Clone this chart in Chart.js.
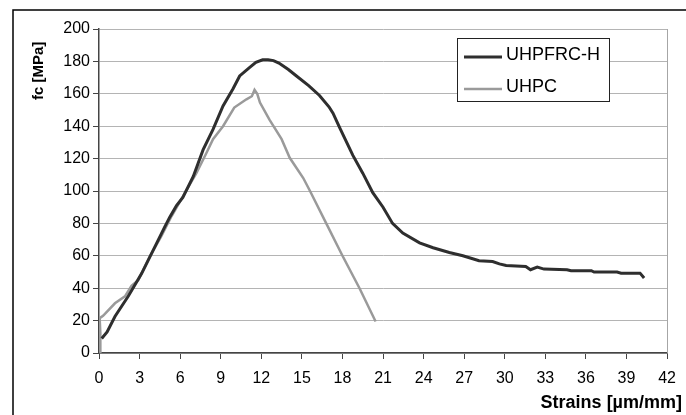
<!DOCTYPE html>
<html>
<head>
<meta charset="utf-8">
<script src="https://cdn.jsdelivr.net/npm/chart.js@4.4.1/dist/chart.umd.min.js"></script>
<style>
  html, body { margin: 0; padding: 0; background: #fff; }
  #wrap { width: 686px; height: 415px; position: relative; }
</style>
</head>
<body>
<div id="wrap"><canvas id="fcChart" width="686" height="415"></canvas></div>
<script>
// series labels
var seriesNames = ['UHPFRC-H', 'UHPC'];

// UHPFRC-H : strain [um/mm] / stress [MPa]
var hStrain = [0.2, 0.6, 1.18, 2.16, 3.15, 3.9, 4.87, 5.24, 5.73, 6.2, 6.97, 7.7, 8.43, 9.17, 9.9, 10.4, 11.1, 11.6, 12.1, 12.5, 12.9, 13.3, 14.0, 14.6, 15.5, 16.3, 17.0, 17.3, 17.8, 18.77, 19.5, 20.24, 21.0, 21.7, 22.46, 23.7, 24.7, 25.9, 26.9, 28.1, 29.1, 29.6, 30.1, 31.55, 31.9, 32.4, 32.9, 34.6, 34.9, 36.4, 36.6, 38.3, 38.6, 40.0, 40.3];
var hStress = [9, 13, 22.5, 35, 49, 61.7, 78, 84, 91, 96, 109, 125.5, 138, 152.5, 163, 171, 176, 179.4, 181, 181, 180.5, 179, 175, 171, 165, 159, 152, 148, 139, 122, 111, 99, 90, 80, 74, 68, 65, 62, 60, 57, 56.5, 55, 54, 53.4, 51.4, 53, 51.8, 51.4, 50.8, 50.8, 50, 50, 49.3, 49.3, 46.3];

// UHPC
var pStrain = [0.1, 0.1, 0.05, 0.3, 1.18, 1.92, 2.4, 2.9, 3.76, 4.6, 5.36, 6.5, 7.2, 7.95, 8.43, 9.17, 10.0, 10.9, 11.3, 11.5, 11.7, 11.9, 12.6, 13.5, 14.1, 15.1, 15.6, 16.8, 18.0, 19.26, 20.45];
var pStress = [0, 12, 21.5, 23, 30.7, 35, 41.5, 45, 59.6, 72, 84.4, 101, 111, 123.6, 132, 140, 151.5, 156.6, 158.5, 162.4, 160, 154.6, 144, 132, 120.5, 108, 100, 80, 60, 40, 19.4];

// axis ticks
var xTicks = [0, 3, 6, 9, 12, 15, 18, 21, 24, 27, 30, 33, 36, 39, 42];
var yTicks = [0, 20, 40, 60, 80, 100, 120, 140, 160, 180, 200];

var xTitle = 'Strains [\u00b5m/mm]';
var yTitle = 'fc [MPa]';

function toPoints(xs, ys) {
    return xs.map(function(x, i) { return { x: x, y: ys[i] }; });
}

// frame, plot border, titles and boxed legend
var decor = {
    id: 'decor',
    beforeDatasetsDraw: function(chart) {
        var ctx = chart.ctx, a = chart.chartArea;
        ctx.save();
        ctx.strokeStyle = '#a6a6a6';
        ctx.lineWidth = 1;
        ctx.beginPath();
        ctx.moveTo(Math.round(a.right) + 0.5, a.top);
        ctx.lineTo(Math.round(a.right) + 0.5, a.bottom);
        ctx.stroke();
        ctx.restore();
    },
    afterDraw: function(chart) {
        var ctx = chart.ctx;
        ctx.save();
        // outer frame
        ctx.strokeStyle = '#000';
        ctx.lineWidth = 1.5;
        ctx.beginPath();
        ctx.moveTo(13, 415);
        ctx.lineTo(13, 10);
        ctx.lineTo(686, 10);
        ctx.stroke();

        // axis titles
        ctx.fillStyle = '#000';
        ctx.font = 'bold 18px "Liberation Sans", Arial, sans-serif';
        ctx.textAlign = 'right';
        ctx.textBaseline = 'alphabetic';
        ctx.fillText(xTitle, 682, 408);

        ctx.save();
        ctx.translate(43, 100);
        ctx.rotate(-Math.PI / 2);
        ctx.font = 'bold 15px "Liberation Sans", Arial, sans-serif';
        ctx.textAlign = 'left';
        ctx.fillText(yTitle, 0, 0);
        ctx.restore();

        // legend
        ctx.fillStyle = '#fff';
        ctx.fillRect(457.5, 38.5, 152, 63);
        ctx.strokeStyle = '#222';
        ctx.lineWidth = 1;
        ctx.strokeRect(457.5, 38.5, 152, 63);
        var rows = [55.5, 87.5];
        chart.data.datasets.forEach(function(ds, i) {
            ctx.strokeStyle = ds.borderColor;
            ctx.lineWidth = ds.borderWidth;
            ctx.beginPath();
            ctx.moveTo(464, rows[i] + 1.5);
            ctx.lineTo(502, rows[i] + 1.5);
            ctx.stroke();
            ctx.fillStyle = '#000';
            ctx.font = '18px "Liberation Sans", Arial, sans-serif';
            ctx.textAlign = 'left';
            ctx.textBaseline = 'middle';
            ctx.fillText(ds.label, 506, rows[i]);
        });
        ctx.restore();
    }
};

var ctx = document.getElementById('fcChart').getContext('2d');
var fcChart = new Chart(ctx, {
    type: 'scatter',
    data: {
        datasets: [{
            label: seriesNames[0],
            data: toPoints(hStrain, hStress),
            showLine: true,
            borderColor: '#2e2e2e',
            borderWidth: 3,
            pointRadius: 0,
            tension: 0,
            order: 1
        }, {
            label: seriesNames[1],
            data: toPoints(pStrain, pStress),
            showLine: true,
            borderColor: '#9a9a9a',
            borderWidth: 2.5,
            pointRadius: 0,
            tension: 0,
            order: 2
        }]
    },
    options: {
        responsive: false,
        animation: false,
        layout: { padding: { top: 29, right: 18, left: 0, bottom: 0 } },
        plugins: {
            legend: { display: false },
            tooltip: { enabled: false }
        },
        scales: {
            x: {
                type: 'linear',
                min: 0,
                max: 42,
                afterBuildTicks: function(s) { s.ticks = xTicks.map(function(v) { return { value: v }; }); },
                afterFit: function(s) { s.height = 62; },
                ticks: {
                    color: '#000',
                    padding: 10,
                    maxRotation: 0,
                    autoSkip: false,
                    font: { family: '"Liberation Sans", Arial, sans-serif', size: 16 }
                },
                grid: {
                    drawOnChartArea: false,
                    drawTicks: true,
                    tickLength: 6,
                    tickColor: '#444'
                },
                border: { color: '#444', width: 1.5 }
            },
            y: {
                min: 0,
                max: 200,
                afterBuildTicks: function(s) { s.ticks = yTicks.map(function(v) { return { value: v }; }); },
                afterFit: function(s) { s.width = 99; },
                ticks: {
                    color: '#000',
                    padding: 3,
                    autoSkip: false,
                    font: { family: '"Liberation Sans", Arial, sans-serif', size: 16 }
                },
                grid: {
                    color: '#b4b4b4',
                    lineWidth: 1,
                    drawTicks: true,
                    tickLength: 6,
                    tickColor: '#444'
                },
                border: { color: '#444', width: 1.5 }
            }
        }
    },
    plugins: [decor]
});
</script>
</body>
</html>
